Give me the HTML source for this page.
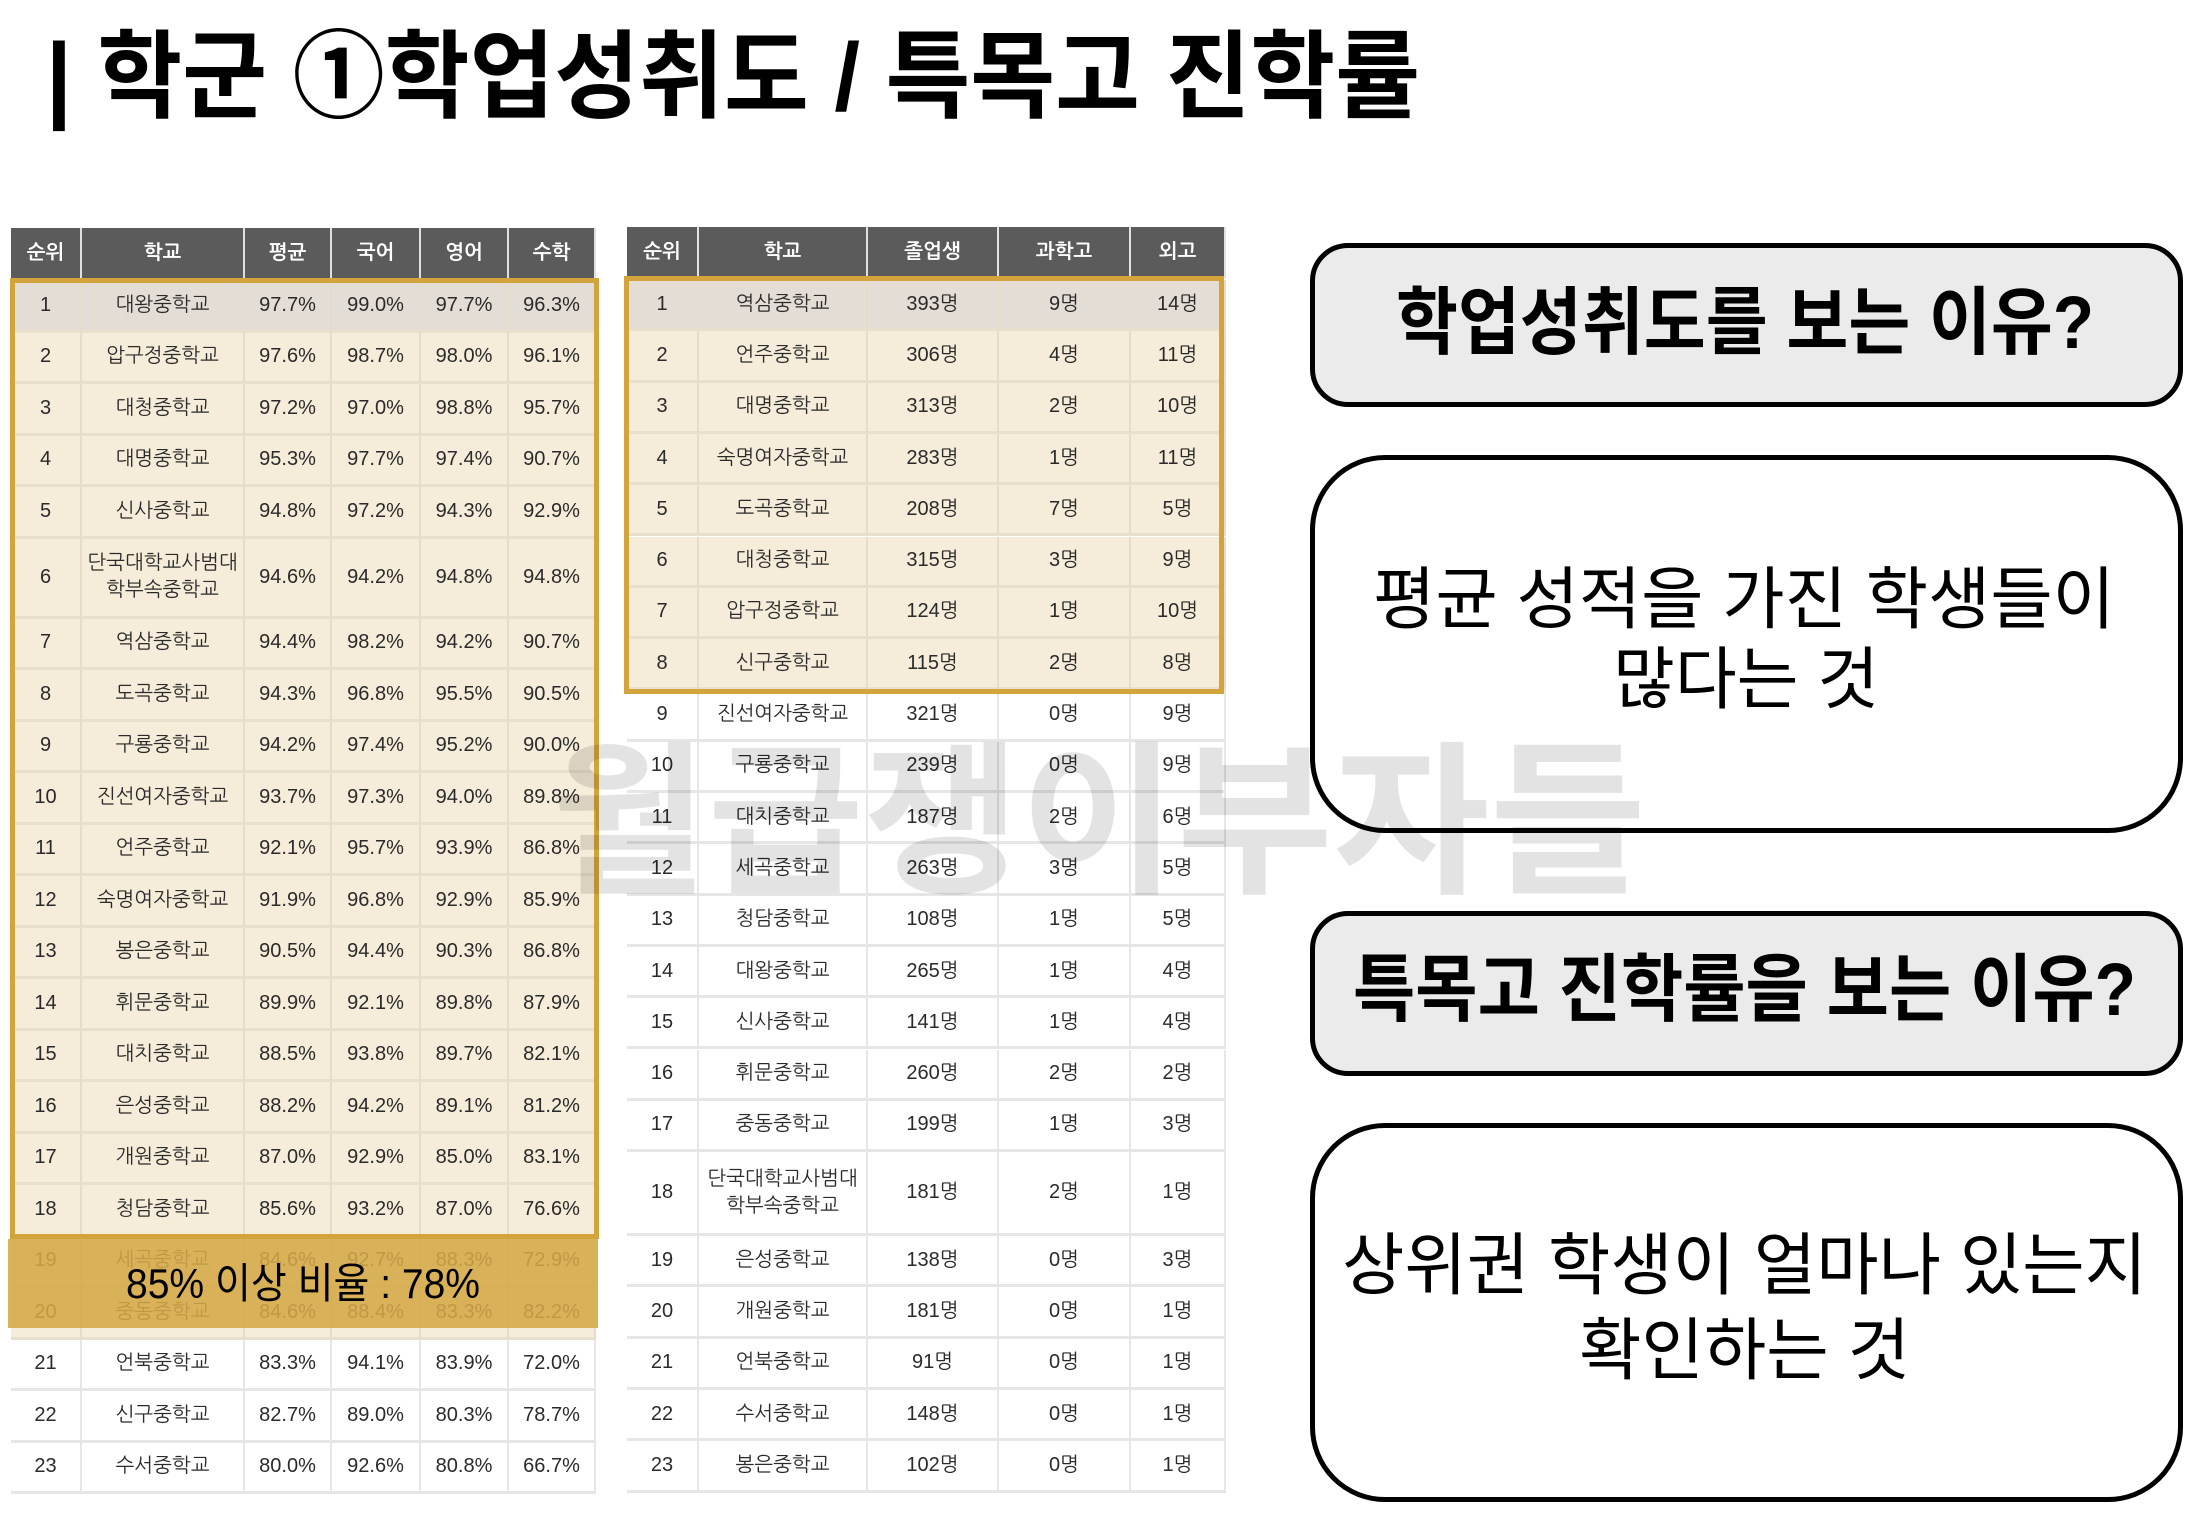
<!DOCTYPE html>
<html><head><meta charset="utf-8">
<style>
html,body{margin:0;padding:0;background:#fff;}
#page{position:relative;width:2194px;height:1518px;overflow:hidden;background:#fff;font-family:"Liberation Sans","NanumGothic","Noto Sans CJK KR",sans-serif;}
.c{position:absolute;box-sizing:border-box;display:flex;align-items:center;justify-content:center;text-align:center;font-size:20px;color:#2a2a2a;line-height:1.35;}
.h{background:#5b5b5b;color:#fff;font-weight:bold;border-right:2px solid #e0e0e0;}
.box{position:absolute;box-sizing:border-box;border:5px solid #000;}
svg text{font-family:"Liberation Sans","Noto Sans CJK KR",sans-serif;}
</style></head>
<body>
<div id="page">
<svg style="position:absolute;left:0;top:0" width="1500" height="140">
  <text x="46" y="110" font-size="96" font-weight="bold" textLength="1374" lengthAdjust="spacingAndGlyphs">| 학군 ①학업성취도 / 특목고 진학률</text>
</svg>

<div id="tblL" style="position:absolute;left:0;top:0;"></div>
<div id="tblR" style="position:absolute;left:0;top:0;"></div>

<div style="position:absolute;left:10px;top:278px;width:589px;height:961px;border:5px solid #d3a43b;box-sizing:border-box;"></div>
<div style="position:absolute;left:624px;top:276px;width:600px;height:418px;border:5px solid #d3a43b;box-sizing:border-box;"></div>
<div style="position:absolute;left:8px;top:1239px;width:590px;height:89px;background:rgba(212,168,70,0.88);"></div>
<svg style="position:absolute;left:0;top:1239px" width="600" height="90">
  <text x="126" y="59" font-size="42" textLength="354" lengthAdjust="spacingAndGlyphs" fill="#000">85% 이상 비율 : 78%</text>
</svg>

<div class="box" style="left:1310px;top:243px;width:873px;height:164px;border-radius:38px;background:#ebebeb;"></div>
<div class="box" style="left:1310px;top:455px;width:873px;height:378px;border-radius:75px;background:#fff;"></div>
<div class="box" style="left:1310px;top:911px;width:873px;height:165px;border-radius:38px;background:#ebebeb;"></div>
<div class="box" style="left:1310px;top:1123px;width:873px;height:379px;border-radius:75px;background:#fff;"></div>
<svg style="position:absolute;left:0;top:0" width="2194" height="1518">
  <text x="1396" y="348" font-size="74" font-weight="bold" textLength="698" lengthAdjust="spacingAndGlyphs">학업성취도를 보는 이유?</text>
  <text x="1373" y="623" font-size="68" textLength="742" lengthAdjust="spacingAndGlyphs">평균 성적을 가진 학생들이</text>
  <text x="1613" y="703" font-size="68" textLength="266" lengthAdjust="spacingAndGlyphs">많다는 것</text>
  <text x="1353" y="1015" font-size="74" font-weight="bold" textLength="783" lengthAdjust="spacingAndGlyphs">특목고 진학률을 보는 이유?</text>
  <text x="1342" y="1289" font-size="68" textLength="805" lengthAdjust="spacingAndGlyphs">상위권 학생이 얼마나 있는지</text>
  <text x="1579" y="1374" font-size="68" textLength="331" lengthAdjust="spacingAndGlyphs">확인하는 것</text>
</svg>
<svg style="position:absolute;left:0;top:0;pointer-events:none" width="2194" height="1518">
  <text x="551" y="880" font-size="165" font-weight="bold" fill="rgba(0,0,0,0.11)" textLength="1095" lengthAdjust="spacingAndGlyphs">월급쟁이부자들</text>
</svg>
</div>
<script>
const leftHeaders = ['순위','학교','평균','국어','영어','수학'];
const leftSchools = ['대왕중학교','압구정중학교','대청중학교','대명중학교','신사중학교','단국대학교사범대<br>학부속중학교','역삼중학교','도곡중학교','구룡중학교','진선여자중학교','언주중학교','숙명여자중학교','봉은중학교','휘문중학교','대치중학교','은성중학교','개원중학교','청담중학교','세곡중학교','중동중학교','언북중학교','신구중학교','수서중학교'];
const leftAvg = [97.7,97.6,97.2,95.3,94.8,94.6,94.4,94.3,94.2,93.7,92.1,91.9,90.5,89.9,88.5,88.2,87.0,85.6,84.6,84.6,83.3,82.7,80.0];
const leftKor = [99.0,98.7,97.0,97.7,97.2,94.2,98.2,96.8,97.4,97.3,95.7,96.8,94.4,92.1,93.8,94.2,92.9,93.2,92.7,88.4,94.1,89.0,92.6];
const leftEng = [97.7,98.0,98.8,97.4,94.3,94.8,94.2,95.5,95.2,94.0,93.9,92.9,90.3,89.8,89.7,89.1,85.0,87.0,88.3,83.3,83.9,80.3,80.8];
const leftMath = [96.3,96.1,95.7,90.7,92.9,94.8,90.7,90.5,90.0,89.8,86.8,85.9,86.8,87.9,82.1,81.2,83.1,76.6,72.9,82.2,72.0,78.7,66.7];

const rightHeaders = ['순위','학교','졸업생','과학고','외고'];
const rightSchools = ['역삼중학교','언주중학교','대명중학교','숙명여자중학교','도곡중학교','대청중학교','압구정중학교','신구중학교','진선여자중학교','구룡중학교','대치중학교','세곡중학교','청담중학교','대왕중학교','신사중학교','휘문중학교','중동중학교','단국대학교사범대<br>학부속중학교','은성중학교','개원중학교','언북중학교','수서중학교','봉은중학교'];
const rightGrads = [393,306,313,283,208,315,124,115,321,239,187,263,108,265,141,260,199,181,138,181,91,148,102];
const rightSci = [9,4,2,1,7,3,1,2,0,0,2,3,1,1,1,2,1,2,0,0,0,0,0];
const rightFor = [14,11,10,11,5,9,10,8,9,9,6,5,5,4,4,2,3,1,3,1,1,1,1];

function cell(parent,x,y,w,h,html,cls,bg,name){
  const d=document.createElement('div');
  d.className='c '+(cls||'');
  d.style.left=x+'px';d.style.top=y+'px';d.style.width=w+'px';d.style.height=h+'px';
  if(bg)d.style.background=bg;
  if(!cls){d.style.borderRight='2px solid '+(bg==='#fff'?'#e6e6e6':'#e6dcc8');d.style.borderBottom='3px solid '+(bg==='#fff'?'#e6e6e6':'#e8dfcc');}
  d.innerHTML=html;
  
  
  parent.appendChild(d);
}
function build(parent,cols,headers,rows,top,headTop,normalH,tallH,tallIdx,hlCount,prefix){
  for(let j=0;j<headers.length;j++) cell(parent,cols[j],headTop,cols[j+1]-cols[j],top-headTop-2,headers[j],'h',null,prefix+'-header-'+j);
  let y=top;
  for(let i=0;i<rows.length;i++){
    const h=(i===tallIdx)?tallH:normalH;
    const bg=i===0?'#e4ddd6':(i<hlCount?'#f5ecd9':'#fff');
    for(let j=0;j<rows[i].length;j++) cell(parent,cols[j],y,cols[j+1]-cols[j],h,rows[i][j],'',bg,prefix+'-row'+(i+1)+'-col'+j);
    y+=h;
  }
}
const L=document.getElementById('tblL');
const lrows=leftSchools.map((s,i)=>[String(i+1),s,leftAvg[i].toFixed(1)+'%',leftKor[i].toFixed(1)+'%',leftEng[i].toFixed(1)+'%',leftMath[i].toFixed(1)+'%']);
build(L,[11,82,245,332,421,509,596],leftHeaders,lrows,281,228,51.5,80,5,20,'left');
const R=document.getElementById('tblR');
const rrows=rightSchools.map((s,i)=>[String(i+1),s,rightGrads[i]+'명',rightSci[i]+'명',rightFor[i]+'명']);
build(R,[627,699,868,999,1131,1226],rightHeaders,rrows,280,227,51.3,84,17,8,'right');
</script>
</body></html>
